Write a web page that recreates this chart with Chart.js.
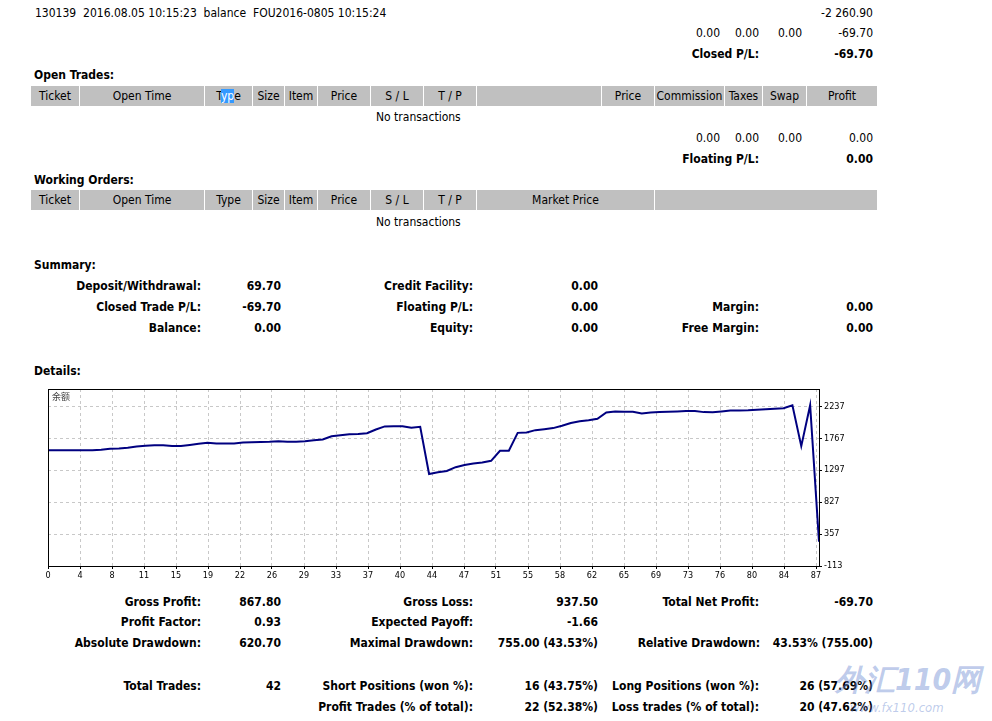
<!DOCTYPE html>
<html>
<head>
<meta charset="utf-8">
<script src="https://cdn.jsdelivr.net/npm/chart.js@4.4.0/dist/chart.umd.min.js"></script>
<style>
body{margin:0;background:#fff;width:992px;height:721px;overflow:hidden;position:relative;
  font-family:"DejaVu Sans Condensed","DejaVu Sans",sans-serif;font-size:12px;color:#000}
.t{position:absolute;white-space:nowrap;line-height:14px;margin-top:1px}
.b{font-weight:bold}
.r{text-align:right;width:300px}
.cell{position:absolute;background:#c0c0c0;height:20px;line-height:21px;text-align:center;white-space:nowrap}
.sel{background:#3399ff;color:#fff}
#wrap{position:absolute;left:40px;top:380px;width:820px;height:205px}
.wm{position:absolute;color:rgba(110,140,210,0.45);font-style:italic;font-weight:bold;white-space:nowrap}
</style>
</head>
<body>

<div class="t" style="left:35px;top:5px">130139&nbsp;&nbsp;2016.08.05 10:15:23&nbsp;&nbsp;balance&nbsp;&nbsp;FOU2016-0805 10:15:24</div>
<div class="t r" style="left:573px;top:5px">-2 260.90</div>

<div class="t r" style="left:420px;top:25px">0.00</div>
<div class="t r" style="left:459px;top:25px">0.00</div>
<div class="t r" style="left:502px;top:25px">0.00</div>
<div class="t r" style="left:573px;top:25px">-69.70</div>
<div class="t r b" style="left:459px;top:46px">Closed P/L:</div>
<div class="t r b" style="left:573px;top:46px">-69.70</div>

<div class="t b" style="left:34px;top:67px">Open Trades:</div>
<div id="bar1"></div>
<div class="t" style="left:376px;top:109px">No transactions</div>

<div class="t r" style="left:420px;top:130px">0.00</div>
<div class="t r" style="left:459px;top:130px">0.00</div>
<div class="t r" style="left:502px;top:130px">0.00</div>
<div class="t r" style="left:573px;top:130px">0.00</div>
<div class="t r b" style="left:459px;top:151px">Floating P/L:</div>
<div class="t r b" style="left:573px;top:151px">0.00</div>

<div class="t b" style="left:34px;top:172px">Working Orders:</div>
<div id="bar2"></div>
<div class="t" style="left:376px;top:214px">No transactions</div>

<div class="t b" style="left:34px;top:257px">Summary:</div>
<div class="t r b" style="left:-99px;top:278px">Deposit/Withdrawal:</div>
<div class="t r b" style="left:-19px;top:278px">69.70</div>
<div class="t r b" style="left:173px;top:278px">Credit Facility:</div>
<div class="t r b" style="left:298px;top:278px">0.00</div>

<div class="t r b" style="left:-99px;top:299px">Closed Trade P/L:</div>
<div class="t r b" style="left:-19px;top:299px">-69.70</div>
<div class="t r b" style="left:173px;top:299px">Floating P/L:</div>
<div class="t r b" style="left:298px;top:299px">0.00</div>
<div class="t r b" style="left:459px;top:299px">Margin:</div>
<div class="t r b" style="left:573px;top:299px">0.00</div>

<div class="t r b" style="left:-99px;top:320px">Balance:</div>
<div class="t r b" style="left:-19px;top:320px">0.00</div>
<div class="t r b" style="left:173px;top:320px">Equity:</div>
<div class="t r b" style="left:298px;top:320px">0.00</div>
<div class="t r b" style="left:459px;top:320px">Free Margin:</div>
<div class="t r b" style="left:573px;top:320px">0.00</div>

<div class="t b" style="left:34px;top:363px">Details:</div>

<div id="wrap"><canvas id="chart" width="820" height="205"></canvas></div>

<div class="t r b" style="left:-99px;top:594px">Gross Profit:</div>
<div class="t r b" style="left:-19px;top:594px">867.80</div>
<div class="t r b" style="left:173px;top:594px">Gross Loss:</div>
<div class="t r b" style="left:298px;top:594px">937.50</div>
<div class="t r b" style="left:459px;top:594px">Total Net Profit:</div>
<div class="t r b" style="left:573px;top:594px">-69.70</div>

<div class="t r b" style="left:-99px;top:614px">Profit Factor:</div>
<div class="t r b" style="left:-19px;top:614px">0.93</div>
<div class="t r b" style="left:173px;top:614px">Expected Payoff:</div>
<div class="t r b" style="left:298px;top:614px">-1.66</div>

<div class="t r b" style="left:-99px;top:635px">Absolute Drawdown:</div>
<div class="t r b" style="left:-19px;top:635px">620.70</div>
<div class="t r b" style="left:173px;top:635px">Maximal Drawdown:</div>
<div class="t r b" style="left:298px;top:635px">755.00 (43.53%)</div>
<div class="t r b" style="left:460px;top:635px">Relative Drawdown:</div>
<div class="t r b" style="left:573px;top:635px">43.53% (755.00)</div>

<div class="t r b" style="left:-99px;top:678px">Total Trades:</div>
<div class="t r b" style="left:-19px;top:678px">42</div>
<div class="t r b" style="left:173px;top:678px">Short Positions (won %):</div>
<div class="t r b" style="left:298px;top:678px">16 (43.75%)</div>
<div class="t r b" style="left:459px;top:678px">Long Positions (won %):</div>
<div class="t r b" style="left:573px;top:678px">26 (57.69%)</div>

<div class="t r b" style="left:173px;top:699px">Profit Trades (% of total):</div>
<div class="t r b" style="left:298px;top:699px">22 (52.38%)</div>
<div class="t r b" style="left:459px;top:699px">Loss trades (% of total):</div>
<div class="t r b" style="left:573px;top:699px">20 (47.62%)</div>

<div class="wm" style="left:835px;top:660px;font-size:30px">外汇110网</div>
<div class="wm" style="left:850px;top:700px;font-size:13px;font-weight:normal">www.fx110.com</div>

<script>
// balance curve, one value per deal
const balance = [
  1591, 1591, 1591, 1591, 1591, 1591, 1595, 1610, 1615, 1625,
  1645, 1655, 1664, 1664, 1650, 1652, 1668, 1684, 1698, 1689,
  1689, 1690, 1703, 1706, 1709, 1713, 1723, 1713, 1713, 1720,
  1738, 1747, 1796, 1811, 1826, 1830, 1840, 1894, 1940, 1943,
  1943, 1919, 1933, 1240, 1265, 1285, 1340, 1372, 1395, 1410,
  1434, 1581, 1581, 1845, 1850, 1885, 1899, 1915, 1950, 1990,
  2015, 2030, 2051, 2144, 2160, 2154, 2154, 2129, 2145, 2150,
  2154, 2160, 2168, 2166, 2150, 2149, 2160, 2173, 2175, 2178,
  2186, 2192, 2200, 2208, 2252, 1650, 2252, 244
];
const xTickLabels = [0, 4, 8, 11, 15, 19, 22, 26, 29, 33, 37, 40, 44, 47, 51, 55, 58, 62, 65, 69, 73, 76, 80, 84, 87];
const yTickLabels = [-113, 357, 827, 1297, 1767, 2237];
const seriesName = '余额';

// header cells of the two grey table bars: [left, right, text]
const openCols = [
  [31, 79, 'Ticket'], [80, 204, 'Open Time'], [205, 252, 'T<span class="sel">yp</span>e'],
  [253, 284, 'Size'], [285, 317, 'Item'], [318, 370, 'Price'], [371, 423, 'S / L'],
  [424, 476, 'T / P'], [477, 601, ''], [602, 654, 'Price'], [655, 724, 'Commission'],
  [725, 762, 'Taxes'], [763, 806, 'Swap'], [807, 877, 'Profit']
];
const orderCols = [
  [31, 79, 'Ticket'], [80, 204, 'Open Time'], [205, 252, 'Type'],
  [253, 284, 'Size'], [285, 317, 'Item'], [318, 370, 'Price'], [371, 423, 'S / L'],
  [424, 476, 'T / P'], [477, 654, 'Market Price'], [655, 877, '']
];

function makeBar(id, cols, top) {
  let html = '';
  cols.forEach(c => {
    html += '<div class="cell" style="left:' + c[0] + 'px;top:' + top + 'px;width:' + (c[1] - c[0]) + 'px">' + c[2] + '</div>';
  });
  document.getElementById(id).innerHTML = html;
}
makeBar('bar1', openCols, 86);
makeBar('bar2', orderCols, 190);

const gridStep = 87 * 32 / 771; // deals per vertical grid line

const framePlugin = {
  id: 'frame',
  afterDraw(chart) {
    const a = chart.chartArea, ctx = chart.ctx;
    ctx.save();
    ctx.strokeStyle = '#000';
    ctx.lineWidth = 1;
    ctx.strokeRect(Math.round(a.left) + 0.5, Math.round(a.top) + 0.5, Math.round(a.right - a.left), Math.round(a.bottom - a.top));
    ctx.fillStyle = '#444';
    ctx.font = '9px "Noto Sans CJK SC"';
    ctx.textBaseline = 'top';
    ctx.fillText(seriesName, a.left + 4, a.top + 3);
    ctx.restore();
  }
};

const tickFont = { family: '"DejaVu Sans Condensed", "DejaVu Sans", sans-serif', size: 9 };

new Chart(document.getElementById('chart'), {
  type: 'line',
  data: {
    datasets: [{
      label: seriesName,
      data: balance.map((v, i) => ({ x: i, y: v })),
      borderColor: '#000080',
      borderWidth: 2,
      pointRadius: 0,
      tension: 0,
      fill: false
    }]
  },
  options: {
    responsive: false,
    animation: false,
    events: [],
    layout: { padding: { left: 8, top: 9, right: 0, bottom: 0 } },
    plugins: { legend: { display: false }, tooltip: { enabled: false } },
    scales: {
      x: {
        type: 'linear',
        min: 0,
        max: balance.length - 1,
        afterBuildTicks: axis => { axis.ticks = xTickLabels.map((v, k) => ({ value: k * gridStep })); },
        afterFit: axis => { axis.height = 19; },
        ticks: {
          autoSkip: false, maxRotation: 0, padding: 1, color: '#000', font: tickFont,
          callback: (v, idx) => xTickLabels[idx]
        },
        grid: { color: '#c8c8c8', tickColor: '#000', tickLength: 3, tickBorderDash: [] },
        border: { display: false, dash: [3, 3] }
      },
      y: {
        type: 'linear',
        position: 'right',
        min: -113,
        max: 2490,
        afterBuildTicks: axis => { axis.ticks = yTickLabels.map(v => ({ value: v })); },
        afterFit: axis => { axis.width = 41; },
        ticks: { padding: 2, color: '#000', font: tickFont, callback: (v, idx) => yTickLabels[idx] },
        grid: { color: '#c8c8c8', tickColor: '#000', tickLength: 3, tickBorderDash: [] },
        border: { display: false, dash: [3, 3] }
      }
    }
  },
  plugins: [framePlugin]
});
</script>
</body>
</html>
